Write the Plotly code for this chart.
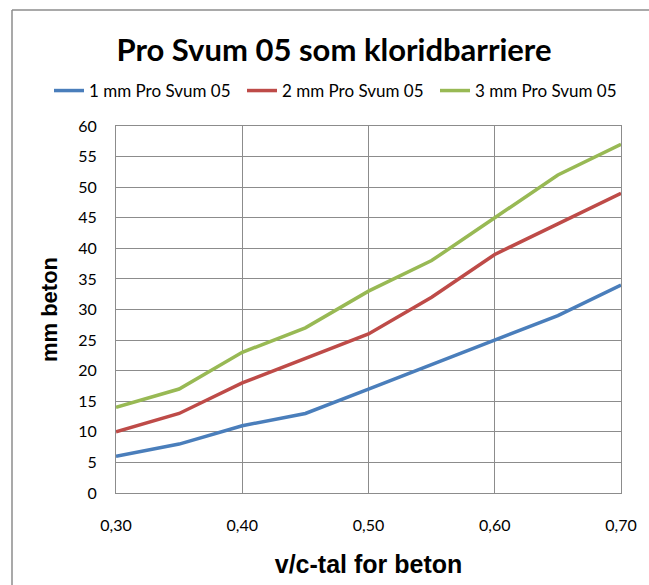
import plotly.graph_objects as go

vc = [0.30, 0.35, 0.40, 0.45, 0.50, 0.55, 0.60, 0.65, 0.70]
mm1 = [6, 8, 11, 13, 17, 21, 25, 29, 34]
mm2 = [10, 13, 18, 22, 26, 32, 39, 44, 49]
mm3 = [14, 17, 23, 27, 33, 38, 45, 52, 57]
names = ["1 mm Pro Svum 05", "2 mm Pro Svum 05", "3 mm Pro Svum 05"]
colors = ["#4A7EBB", "#BE4B48", "#98B954"]
xticks = [0.30, 0.40, 0.50, 0.60, 0.70]
xtick_labels = ["0,30", "0,40", "0,50", "0,60", "0,70"]

W, H = 649, 585
L, R, T, B = 116, 28, 126, 92
pw, ph = W - L - R, H - T - B

fig = go.Figure()
for ys, n, c in zip([mm1, mm2, mm3], names, colors):
    fig.add_trace(go.Scatter(x=vc, y=ys, mode="lines", name=n,
                             line=dict(color=c, width=3.5)))

grid = "#8C8C8C"
fig.update_layout(
    width=W, height=H,
    margin=dict(l=L, r=R, t=T, b=B),
    paper_bgcolor="white", plot_bgcolor="white",
    title=dict(text="<b>Pro Svum 05 som kloridbarriere</b>", x=334 / W, xanchor="center",
               y=1 - 50 / H, yanchor="middle",
               font=dict(family="Lato", size=31, color="black")),
    legend=dict(orientation="h", x=(49 - L) / pw, xanchor="left", y=1 + (T - 91) / ph,
                yanchor="middle", font=dict(family="Lato", size=17, color="black"),
                itemwidth=30, tracegroupgap=0, entrywidth=148),
    font=dict(family="Lato", size=16, color="black"),
    xaxis=dict(range=[0.30, 0.70], tickvals=xticks, ticktext=xtick_labels,
               showgrid=True, gridcolor=grid, gridwidth=1, zeroline=False,
               showline=True, linecolor=grid, linewidth=1, mirror=True,
               ticks="", ticklen=0, ticklabelstandoff=18,
               title=dict(text="<b>v/c-tal for beton</b>", standoff=22,
                          font=dict(family="Liberation Sans", size=25, color="black")),
               tickfont=dict(family="Lato", size=16)),
    yaxis=dict(range=[0, 60], dtick=5, showgrid=True, gridcolor=grid, gridwidth=1,
               zeroline=False, showline=True, linecolor=grid, linewidth=1, mirror=True,
               ticks="", ticklen=0, ticklabelstandoff=15,
               title=dict(text="<b>mm beton</b>", standoff=14,
                          font=dict(family="Liberation Sans", size=22, color="black")),
               tickfont=dict(family="Lato", size=16)),
)

# outer chart-area border (partially outside the viewport)
xl = (12 - L) / pw
yt = 1 + (T - 10) / ph
fig.add_shape(type="line", xref="paper", yref="paper", x0=xl, x1=xl, y0=yt, y1=-1,
              line=dict(color="#8C8C8C", width=1.5))
fig.add_shape(type="line", xref="paper", yref="paper", x0=xl, x1=2, y0=yt, y1=yt,
              line=dict(color="#8C8C8C", width=1.5))

fig.write_html("out.html", config={"displayModeBar": False},
               post_script="document.body.style.margin='0';")
